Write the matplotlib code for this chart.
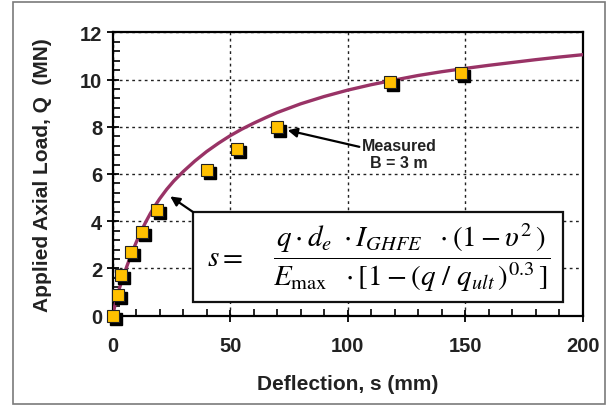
import matplotlib
matplotlib.use("Agg")
import matplotlib.pyplot as plt
import matplotlib.transforms as mtransforms
from matplotlib.patches import Rectangle
from matplotlib.ticker import MultipleLocator

plt.rcParams['font.family'] = ['Liberation Sans', 'DejaVu Sans']
plt.rcParams['mathtext.fontset'] = 'stix'

# measured load test points (deflection mm, load MN)
meas_s = [0, 2.4, 3.6, 7.8, 12.6, 18.7, 40.3, 53.0, 70.1, 118.0, 148.1]
meas_q = [0, 0.87, 1.73, 2.68, 3.56, 4.46, 6.17, 7.06, 7.97, 9.90, 10.28]

# fitted curve
fit_s = [0, 1, 2, 3, 4, 5, 6, 8, 10, 12, 14, 16, 18, 20, 23, 26, 30, 35, 40, 45, 50,
         55, 60, 65, 70, 80, 90, 100, 110, 120, 130, 140, 150, 160, 170, 180, 190, 200]
fit_q = [0, 0.45, 0.85, 1.2, 1.5, 1.8, 2.08, 2.62, 3.1, 3.55, 3.95, 4.32, 4.65, 4.95,
         5.35, 5.7, 6.1, 6.55, 6.95, 7.3, 7.62, 7.9, 8.15, 8.38, 8.6, 8.97, 9.28, 9.55,
         9.78, 9.98, 10.17, 10.33, 10.47, 10.6, 10.72, 10.84, 10.95, 11.05]

fig = plt.figure(figsize=(6.09, 4.06), dpi=100)
ax = fig.add_axes([0.185, 0.22, 0.7715, 0.698])

# outer frame round the whole picture
fig.patches.append(Rectangle((13/609, 1/406), 592/609, 402/406, transform=fig.transFigure,
                             fill=False, ec='#7a7a7a', lw=1.2))

ax.grid(True, which='major', color='#222222', linestyle=(0, (2, 2.5)), lw=1.0)
ax.set_axisbelow(True)

ax.plot(fit_s, fit_q, color='#993366', lw=2.4, zorder=3, solid_joinstyle='round')

shadow = ax.transData + mtransforms.ScaledTranslation(2.2/72, -2.2/72, fig.dpi_scale_trans)
ax.plot(meas_s, meas_q, 's', ms=8.5, color='black', transform=shadow, zorder=4, clip_on=False)
ax.plot(meas_s, meas_q, 's', ms=8.5, mfc='#FFC000', mec='#222222', mew=0.8, zorder=5, clip_on=False)

ax.set_xlim(0, 200)
ax.set_ylim(0, 12)
ax.xaxis.set_major_locator(MultipleLocator(50))
ax.xaxis.set_minor_locator(MultipleLocator(10))
ax.yaxis.set_major_locator(MultipleLocator(2))
ax.yaxis.set_minor_locator(MultipleLocator(0.4))
ax.tick_params(which='major', direction='inout', length=9, width=1.3, labelsize=14.5, pad=3)
ax.tick_params(which='minor', direction='in', length=5, width=1.2)
ax.tick_params(axis='x', which='major', pad=10)
for sp in ax.spines.values():
    sp.set_linewidth(1.6)
for lab in ax.get_xticklabels() + ax.get_yticklabels():
    lab.set_fontweight('bold')
    lab.set_color('#222222')

ax.set_xlabel('Deflection, s (mm)', fontsize=15, fontweight='bold', color='#222222', labelpad=14)
ax.set_ylabel('Applied Axial Load, Q  (MN)', fontsize=15, fontweight='bold', color='#222222', labelpad=20)

# formula box
ax.add_patch(Rectangle((34.2, 0.58), 157.5, 3.81, fc='white', ec='#111111', lw=1.6, zorder=6))
ax.text(48, 2.49, r'$s =$', fontsize=21, ha='center', va='center', zorder=7)
ax.text(127, 2.49,
        r'$\dfrac{q\cdot d_e\ \cdot I_{GHFE}\ \ \cdot(1-\upsilon^2\,)}{E_{\max}\ \ \cdot[1-(q\ /\ q_{ult}\,)^{0.3}\,]}$',
        fontsize=21, ha='center', va='center', zorder=7)

ax.annotate('', xy=(24.5, 5.05), xytext=(34.2, 4.39),
            arrowprops=dict(arrowstyle='-|>', color='black', lw=1.6, mutation_scale=14,
                            shrinkA=0, shrinkB=0), zorder=7)
ax.annotate('', xy=(74.5, 7.85), xytext=(105, 7.15),
            arrowprops=dict(arrowstyle='-|>', color='black', lw=1.6, mutation_scale=14,
                            shrinkA=0, shrinkB=0), zorder=7)
ax.text(122, 6.85, 'Measured\nB = 3 m', fontsize=11.5, fontweight='bold', color='#222222',
        ha='center', va='center', linespacing=1.15,
        bbox=dict(fc='white', ec='none', pad=1))

fig.savefig('out.png', dpi=100)
